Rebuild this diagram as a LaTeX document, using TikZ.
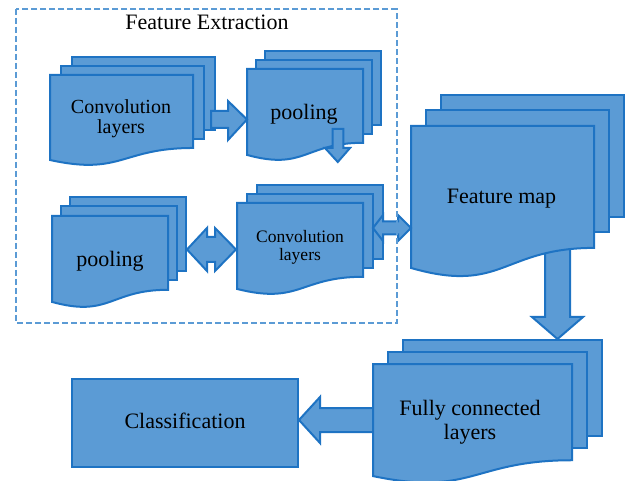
\documentclass[tikz,border=0pt]{standalone}
\usepackage{fontspec}
\setmainfont{Liberation Serif}
\definecolor{pagefill}{HTML}{5B9BD5}
\definecolor{pageedge}{HTML}{1E73C3}
\definecolor{framecol}{HTML}{5B9BD5}

% A stack of three sheets: two plain sheets behind, a wavy-bottomed sheet in front.
% #1 name, #2 left, #3 top, #4 width, #5 height, #6 x-offset, #7 y-offset
\newcommand\layerstack[7]{%
  \foreach \i in {2,1}{%
    \draw[page] ({#2+\i*#6},{#3-\i*#7}) rectangle ({#2+#4+\i*#6},{#3+0.802*#5-\i*#7});
  }
  \draw[page] (#2,#3) -- ({#2+#4},#3) -- ({#2+#4},{#3+0.802*#5})
     .. controls ({#2+0.5*#4},{#3+0.802*#5}) and ({#2+0.5*#4},{#3+1.1075*#5}) .. (#2,{#3+0.934*#5}) -- cycle;
  \coordinate (#1) at ({#2+0.5*#4},{#3+0.4*#5});
}

\begin{document}
\begin{tikzpicture}[x=1pt,y=-1pt,
  page/.style={fill=pagefill,draw=pageedge,line width=2pt,line join=miter},
  blockarrow/.style={fill=pagefill,draw=pageedge,line width=2pt,line join=miter},
  lbl/.style={text=black,inner sep=0pt},
  frame/.style={draw=framecol,line width=2.2pt,dash pattern=on 6pt off 3pt}]
\useasboundingbox (0,0) rectangle (627,481);

% feature extraction stacks
\layerstack{conv1}{50}{75}{143}{91}{11}{9}
\layerstack{pool1}{247}{69}{116}{92}{9}{9}
\layerstack{pool2}{52}{216}{116}{92}{9}{9.5}
\layerstack{conv2}{237}{203}{126}{92}{10}{9}

% convolution -> pooling
\draw[blockarrow] (211,111) -- (228,111) -- (228,101) -- (247,119.5) -- (228,140)
  -- (228,128) -- (211,128) -- cycle;
% pooling, downwards
\draw[blockarrow] (332.7,129) -- (343.3,129) -- (343.3,148) -- (350,148) -- (337.8,162)
  -- (325,148) -- (332.7,148) -- cycle;
% pooling <-> convolution
\draw[blockarrow] (187,249.5) -- (207,228) -- (207,237) -- (215,237) -- (215,228)
  -- (236,249.5) -- (215,271) -- (215,262) -- (207,262) -- (207,271) -- cycle;

% classification box and its incoming arrow
\node[page,minimum width=226pt,minimum height=88pt,inner sep=0pt] (classbox) at (185,423) {};
\draw[blockarrow] (299,420) -- (320,397) -- (320,408) -- (380,408) -- (380,432)
  -- (320,432) -- (320,443) -- cycle;

% fully connected layers
\layerstack{fcl}{373}{364}{199}{120}{15}{12}
% feature map -> fully connected
\draw[blockarrow] (545,244) -- (570,244) -- (570,317) -- (583,317) -- (557.5,339)
  -- (532,317) -- (545,317) -- cycle;
% feature map
\layerstack{fmap}{411}{126}{183}{152}{15}{15.5}
% convolution <-> feature map
\draw[blockarrow] (373,228) -- (383,215) -- (383,221.5) -- (398,221.5) -- (398,215)
  -- (411,228) -- (398,241) -- (398,234.5) -- (383,234.5) -- (383,241) -- cycle;

% dashed frame of the extraction stage
\draw[frame] (16,9) rectangle (396.7,323);

% labels
\node[lbl,font=\fontsize{22}{22}\selectfont,anchor=base] (title) at (207,29.3) {Feature Extraction};
\node[lbl,align=center,font=\fontsize{20}{20}\selectfont] (conv1txt) at (121,118.5) {Convolution\\layers};
\node[lbl,font=\fontsize{22}{22}\selectfont,anchor=base] (pool1txt) at (304,120) {pooling};
\node[lbl,font=\fontsize{22}{22}\selectfont,anchor=base] (pool2txt) at (110,267) {pooling};
\node[lbl,align=center,font=\fontsize{17.5}{17.5}\selectfont] (conv2txt) at (300,247.5) {Convolution\\layers};
\node[lbl,font=\fontsize{22}{22}\selectfont,anchor=base] (fmaptxt) at (501.5,203.5) {Feature map};
\node[lbl,align=center,font=\fontsize{22}{24}\selectfont] (fcltxt) at (470,422.5) {Fully connected\\layers};
\node[lbl,font=\fontsize{22}{22}\selectfont,anchor=base] (classtxt) at (185,428) {Classification};
\end{tikzpicture}
\end{document}
